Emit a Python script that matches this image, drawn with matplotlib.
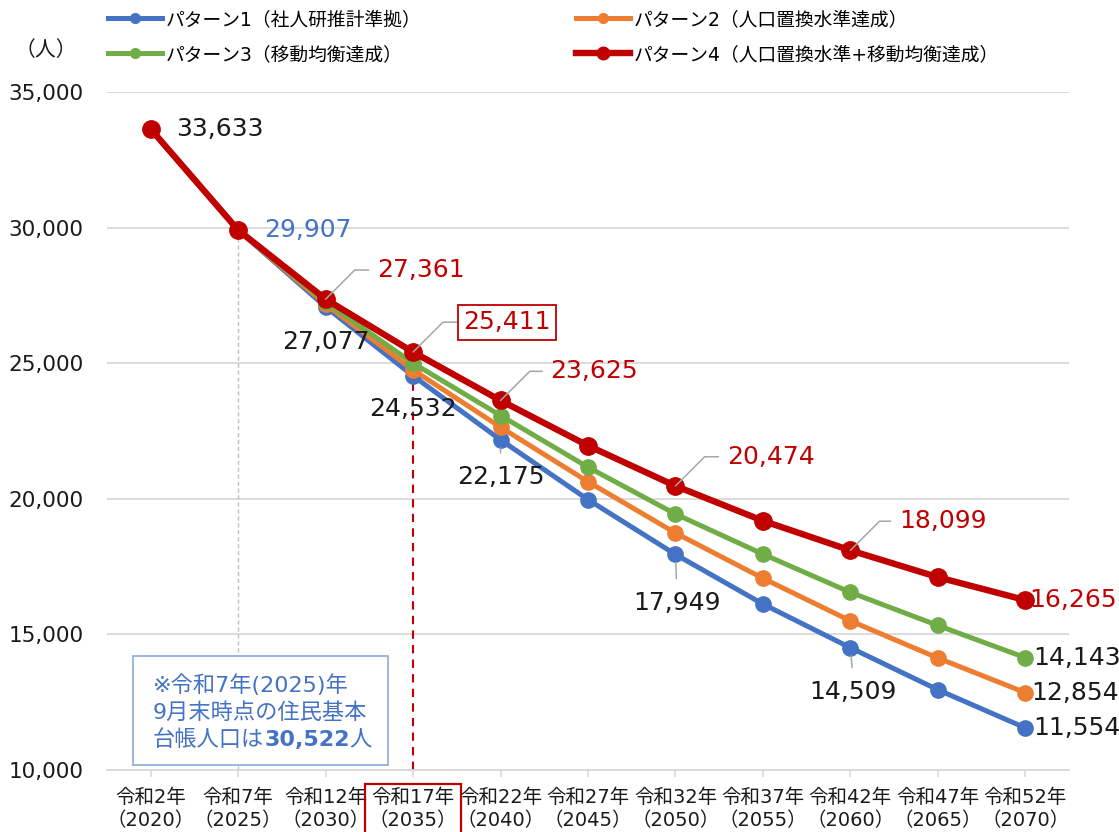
import matplotlib.pyplot as plt
from matplotlib.lines import Line2D
from matplotlib.patches import Rectangle

# データ
reiwa = [2, 7, 12, 17, 22, 27, 32, 37, 42, 47, 52]
years = [2020, 2025, 2030, 2035, 2040, 2045, 2050, 2055, 2060, 2065, 2070]
tick_labels = [f'令和{r}年\n（{y}）' for r, y in zip(reiwa, years)]

p1 = [33633, 29907, 27077, 24532, 22175, 19970, 17949, 16120, 14509, 12960, 11554]
p2 = [33633, 29907, 27170, 24750, 22640, 20630, 18740, 17070, 15500, 14130, 12854]
p3 = [33633, 29907, 27250, 25000, 23070, 21165, 19440, 17960, 16550, 15330, 14143]
p4 = [33633, 29907, 27361, 25411, 23625, 21960, 20474, 19190, 18099, 17110, 16265]

names = ['パターン1（社人研推計準拠）', 'パターン2（人口置換水準達成）',
         'パターン3（移動均衡達成）', 'パターン4（人口置換水準+移動均衡達成）']
colors = ['#4472C4', '#ED7D31', '#70AD47', '#C00000']

note_lines = ['※令和7年(2025)年', '9月末時点の住民基本', '台帳人口は']
note_value = '30,522'

plt.rcParams['font.family'] = ['DejaVu Sans', 'Noto Sans CJK JP']

fig = plt.figure(figsize=(11.19, 8.32), dpi=100)
W, H = 1119, 832
ax = fig.add_axes([107 / W, 1 - 770 / H, (1069 - 107) / W, (770 - 92) / H])

x = list(range(len(years)))
series = [p1, p2, p3, p4]
handles = []
for i, (s, c) in enumerate(zip(series, colors)):
    lw = 4.6 if i == 3 else 3.6
    ms = 12.5 if i == 3 else 11
    ax.plot(x, s, color=c, lw=lw, marker='o', ms=ms, mec=c, mfc=c,
            zorder=3 + i, solid_joinstyle='round')
    handles.append(Line2D([], [], color=c, lw=lw, marker='o', ms=7 if i < 3 else 9))

# 補助線
ax.vlines(1, 10000, p1[1], colors='#BFBFBF', linestyles=(0, (3, 2)), lw=1.0, zorder=1)
ax.vlines(3, 10000, p4[3], colors='#C00000', linestyles=(0, (4, 3)), lw=1.5, zorder=2)

ax.set_xlim(-0.5, len(years) - 0.5)
ax.set_ylim(10000, 35000)
ax.set_yticks(range(10000, 35001, 5000))
ax.set_yticklabels([f'{v:,}' for v in range(10000, 35001, 5000)], fontsize=15.5, color='#1a1a1a')
ax.set_xticks(x)
ax.set_xticklabels(tick_labels, fontsize=14, color='#1a1a1a', linespacing=1.25)
ax.tick_params(axis='y', length=0, pad=17)
ax.tick_params(axis='x', length=5, color='#D9D9D9', width=1.2, pad=8)
ax.yaxis.grid(True, color='#D9D9D9', lw=1.3)
ax.set_axisbelow(True)
for sp in ['left', 'right', 'top']:
    ax.spines[sp].set_visible(False)
ax.spines['bottom'].set_color('#D9D9D9')
ax.spines['bottom'].set_linewidth(1.3)

ax.get_xticklabels()[3].set_bbox(dict(facecolor='none', edgecolor='#C00000', lw=1.6, pad=3))

# データラベル
lead = dict(arrowstyle='-', color='#A6A6A6', lw=1.1, shrinkA=4, shrinkB=0,
            connectionstyle='angle,angleA=0,angleB=45,rad=0', relpos=(0, 0.5))
vlead = dict(arrowstyle='-', color='#A6A6A6', lw=1.1, shrinkA=7, shrinkB=6, relpos=(0.5, 1))
fs = 18

def label(s, i, dx, dy, color, ha='left', arrow=None, box=None):
    ax.annotate(f'{s[i]:,}', (i, s[i]), xytext=(dx, dy), textcoords='offset points',
                ha=ha, va='center', fontsize=fs, color=color, arrowprops=arrow,
                bbox=box, zorder=10)

label(p4, 0, 18, 0, '#1a1a1a')
label(p1, 1, 19, 0, '#4472C4')
label(p4, 2, 37, 21, '#C00000', arrow=lead)
label(p1, 2, 0, -25, '#1a1a1a', ha='center')
box_lead = dict(lead, shrinkA=0)
label(p4, 3, 36, 21.5, '#C00000', arrow=box_lead,
      box=dict(facecolor='white', edgecolor='#C00000', lw=1.3, pad=4))
label(p1, 3, 0, -24, '#1a1a1a', ha='center')
label(p4, 4, 36, 21, '#C00000', arrow=lead)
label(p1, 4, 0, -27, '#1a1a1a', ha='center', arrow=vlead)
label(p4, 6, 37, 21, '#C00000', arrow=lead)
label(p1, 6, 1, -35, '#1a1a1a', ha='center', arrow=vlead)
label(p4, 8, 35, 21, '#C00000', arrow=lead)
label(p1, 8, 2, -32, '#1a1a1a', ha='center', arrow=vlead)
label(p4, 10, 3, 0, '#C00000')
label(p3, 10, 6, 0, '#1a1a1a')
label(p2, 10, 4, 0, '#1a1a1a')
label(p1, 10, 6, 0, '#1a1a1a')

# 単位
fig.text(46 / W, 1 - 50 / H, '（人）', fontsize=15, ha='center', va='center', color='#1a1a1a')

# 凡例
order = [0, 2, 1, 3]
fig.legend([handles[k] for k in order], [names[k] for k in order], ncol=2,
           loc='upper left', bbox_to_anchor=(108 / W, 1 - 10 / H), frameon=False,
           fontsize=13.5, handlelength=2.9, handletextpad=0.2, columnspacing=8.2,
           labelspacing=0.85, borderpad=0, borderaxespad=0)

# 注記
ax.add_patch(Rectangle((133 / W, 1 - 765 / H), (388 - 133) / W, (765 - 656) / H,
                       transform=fig.transFigure, facecolor='white',
                       edgecolor='#8EA9DB', lw=1.2, zorder=5, clip_on=False))
note_fs = 16
for t, yc in zip(note_lines, [685, 712, 740]):
    tx = ax.text(153 / W, 1 - yc / H, t, fontsize=note_fs, color='#4472C4',
                 ha='left', va='center', zorder=6, transform=fig.transFigure)
v = ax.annotate(note_value, xy=(1, 0), xycoords=tx, ha='left', va='bottom',
                fontsize=note_fs, color='#4472C4', fontweight='bold', zorder=6)
ax.annotate('人', xy=(1, 0), xycoords=v, ha='left', va='bottom',
            fontsize=note_fs, color='#4472C4', zorder=6)

fig.savefig('out.png', dpi=100)
